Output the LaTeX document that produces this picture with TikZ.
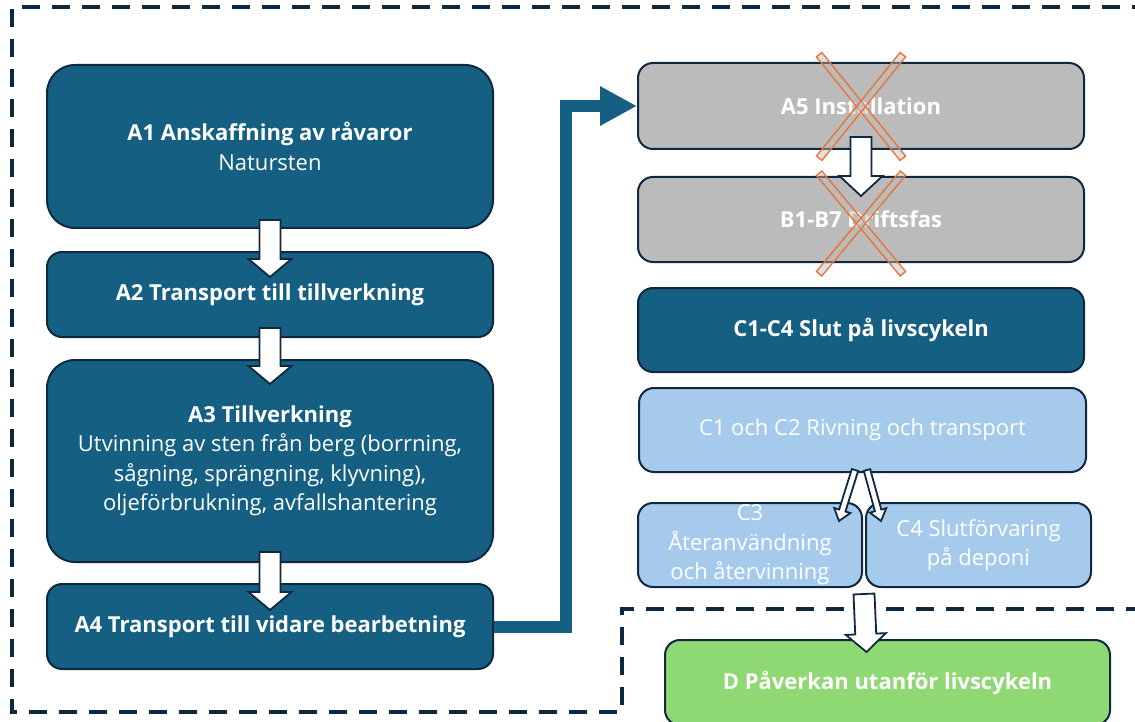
\documentclass[tikz,border=0pt]{standalone}
\usepackage{fontspec}
\setmainfont{Open Sans}
\usetikzlibrary{arrows.meta,calc}
\definecolor{cteal}{HTML}{156082}
\definecolor{cnavy}{HTML}{0E2841}
\definecolor{cgray}{HTML}{BBBBBB}
\definecolor{clight}{HTML}{A6CAEC}
\definecolor{cgreen}{HTML}{8ED973}
\definecolor{corange}{HTML}{E97132}
\tikzset{
  box/.style={draw=cnavy, line width=2pt, rounded corners=15pt, minimum width=446pt,
    minimum height=85pt, align=center, text=white, inner sep=0pt,
    font=\fontsize{22}{29.5}\selectfont},
  darkbox/.style={box, fill=cteal},
  graybox/.style={box, fill=cgray},
  lightbox/.style={box, fill=clight},
  greenbox/.style={box, fill=cgreen},
  barrow/.style={draw=cnavy, fill=white, line width=1.8pt, line join=miter},
  flowline/.style={draw=cteal, line width=12pt, line join=miter,
    -{Triangle[length=37pt,width=37pt]}},
  outline/.style={draw=cnavy, line width=4pt, dash pattern=on 18pt off 12pt},
  crossbar/.style={draw=corange, line width=1.3pt, fill=cgray, fill opacity=0.45},
}
% block arrow: #1 from, #2 to, #3 half shaft, #4 half head, #5 head length
\newcommand\blockarrow[5]{%
  \draw[barrow] let \p1=#1, \p2=#2, \n1={atan2(\y2-\y1,\x2-\x1)},
    \n2={veclen(\x2-\x1,\y2-\y1)} in [shift={(\p1)}, rotate=\n1]
    (0,#3) -- ({\n2-#5},#3) -- ({\n2-#5},#4) -- (\n2,0) -- ({\n2-#5},-#4)
    -- ({\n2-#5},-#3) -- (0,-#3) -- cycle;}
% orange bar: #1 from, #2 to
\newcommand\crossbar[2]{%
  \draw[crossbar] let \p1=#1, \p2=#2, \n1={atan2(\y2-\y1,\x2-\x1)},
    \n2={veclen(\x2-\x1,\y2-\y1)} in [shift={(\p1)}, rotate=\n1]
    (-3,3.5) rectangle ({\n2+3},-3.5);}
\begin{document}
\begin{tikzpicture}[x=1pt,y=-1pt]
\useasboundingbox (0,0) rectangle (1135,722);
% dashed system boundary
\draw[outline] (1150,7) -- (12,7) -- (12,712) -- (622,712) -- (622,609) -- (1150,609);
% left column
\node[darkbox, rounded corners=28pt, minimum height=163pt] (a1) at (270,146.5)
  {\textbf{A1 Anskaffning av råvaror}\\Natursten};
\node[darkbox] (a2) at (270,294.5) {\textbf{A2 Transport till tillverkning}};
\node[darkbox, rounded corners=28pt, minimum height=202pt] (a3) at (270,461)
  {\textbf{A3 Tillverkning}\\Utvinning av sten från berg (borrning,\\sågning, sprängning, klyvning),\\oljeförbrukning, avfallshantering};
\node[darkbox] (a4) at (270,626.5) {\textbf{A4 Transport till vidare bearbetning}};
% right column
\node[graybox, minimum height=86pt] (a5) at (861,106) {\textbf{A5 Installation}};
\node[graybox] (b) at (861,219.5) {\textbf{B1-B7 Driftsfas}};
\node[darkbox, minimum height=84pt] (c) at (861,330) {\textbf{C1-C4 Slut på livscykeln}};
\node[lightbox, minimum width=447pt, minimum height=84pt] (c12) at (862.5,430)
  {C1 och C2 Rivning och transport};
\node[lightbox, minimum width=224pt, minimum height=84pt] (c3) at (750,545)
  {C3\\Återanvändning\\och återvinning};
\node[lightbox, minimum width=225pt, minimum height=84pt] (c4) at (978.5,545)
  {C4 Slutförvaring\\på deponi};
\node[greenbox, minimum width=445pt] (d) at (887.5,682.5) {\textbf{D Påverkan utanför livscykeln}};
% connector A4 -> A5
\draw[flowline] (a4.east) -- (566,626.5) |- (a5.west);
% block arrows
\blockarrow{($(a1.south)+(0,-9)$)}{($(a2.north)+(0,26)$)}{10.5}{21.5}{18}
\blockarrow{($(a2.south)+(0,-10)$)}{($(a3.north)+(0,25)$)}{10.5}{21.5}{18}
\blockarrow{($(a3.south)+(0,-11)$)}{($(a4.north)+(0,27)$)}{10.5}{21.5}{18}
\blockarrow{($(a5.south)+(0,-13)$)}{($(b.north)+(0,20)$)}{10.5}{21.5}{20}
\blockarrow{($(c12.south)+(-7.5,-3)$)}{($(c3.north east)+(-24,19)$)}{3.3}{8.5}{11}
\blockarrow{($(c12.south)+(4.5,-3)$)}{($(c4.north west)+(16,19)$)}{3.3}{8.5}{11}
\coordinate (cgap) at ($(c3.south east)!0.5!(c4.south west)$);
\blockarrow{($(cgap)+(0,6)$)}{($(d.north)+(-21,13)$)}{10.5}{20}{18}
% crosses over excluded modules
\crossbar{($(a5.center)+(-40,-49)$)}{($(a5.center)+(40,50)$)}
\crossbar{($(a5.center)+(40,-49)$)}{($(a5.center)+(-40,50)$)}
\crossbar{($(b.center)+(-40,-44)$)}{($(b.center)+(40,52)$)}
\crossbar{($(b.center)+(40,-44)$)}{($(b.center)+(-40,52)$)}
\end{tikzpicture}
\end{document}
